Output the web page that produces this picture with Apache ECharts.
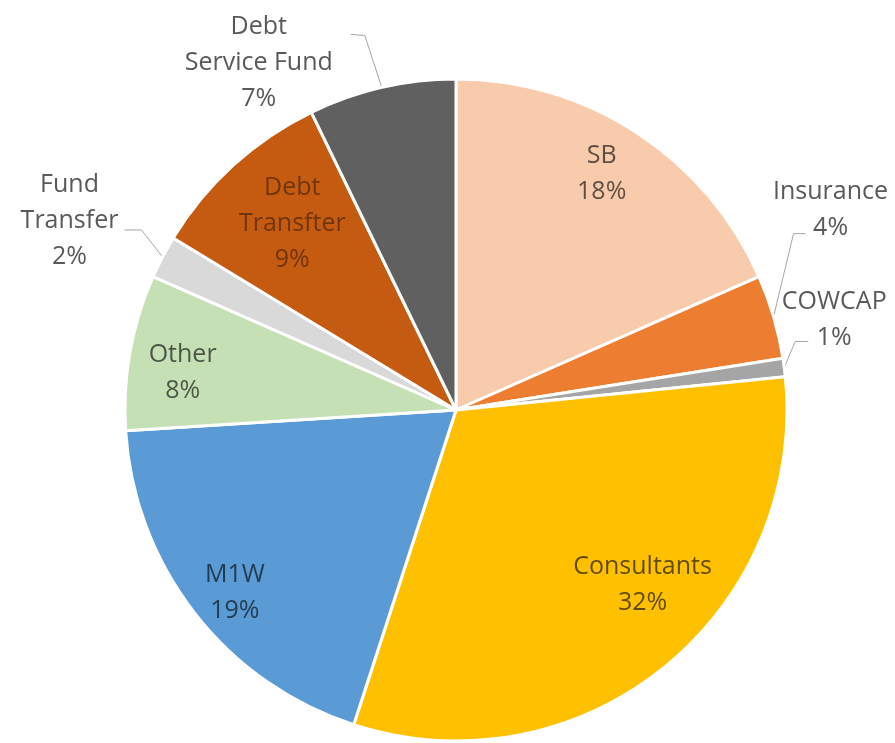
<!DOCTYPE html>
<html>
<head>
<meta charset="utf-8">
<title>Budget pie</title>
<script src="https://cdn.jsdelivr.net/npm/echarts@6/dist/echarts.min.js"></script>
<style>
  html, body { margin: 0; padding: 0; background: #fff; }
  #chart { width: 895px; height: 743px; }
</style>
</head>
<body>
<div id="chart"></div>
<script>
// slices, clockwise from 12 o'clock
const categories = ['SB', 'Insurance', 'COWCAP', 'Consultants', 'M1W', 'Other', 'Fund\nTransfer', 'Debt\nTransfter', 'Debt\nService Fund']
const values = [18.4, 4.1, 0.9, 31.6, 19.0, 7.6, 2.1, 9.1, 7.2]
const colors = ['#F8CBAD', '#ED7D31', '#A5A5A5', '#FFC000', '#5B9BD5', '#C5E0B4', '#D9D9D9', '#C55A11', '#606060']
const outsideLabels = ['Insurance', 'COWCAP', 'Fund\nTransfer', 'Debt\nService Fund']

// nudges for the labels drawn inside the slices
const insideNudge = {
  'SB': [-1, -11],
  'Consultants': [18, -34],
  'M1W': [-9, 18],
  'Other': [-9, 10],
  'Debt\nTransfter': [17, 12]
}
// leader line elbow, line end and label centre, relative to the slice edge
const leader = {
  'Insurance': [[20, -83], [32, -83], [57, -107]],
  'COWCAP': [[11, -26], [24, -26], [50, -48]],
  'Fund\nTransfer': [[-21, -27], [-38, -27], [-93, -36]],
  'Debt\nService Fund': [[-17, -52], [-31, -53], [-123, -25]]
}

const font = '"Open Sans", "Noto Sans", sans-serif'
const center = [456, 410]

const mainData = categories.map((name, i) => {
  const outside = outsideLabels.indexOf(name) >= 0
  return {
    name: name,
    value: values[i],
    itemStyle: { color: colors[i] },
    label: { show: outside },
    labelLine: { show: outside }
  }
})

const innerData = categories.map((name, i) => {
  const inside = outsideLabels.indexOf(name) < 0
  return {
    name: name,
    value: values[i],
    label: {
      show: inside,
      color: name === 'Debt\nTransfter' ? 'rgba(0,0,0,0.42)' : 'rgba(0,0,0,0.62)'
    }
  }
})

const chart = echarts.init(document.getElementById('chart'))
const option = {
  animation: false,
  backgroundColor: '#fff',
  series: [
    {
      type: 'pie',
      center: center,
      radius: 331,
      startAngle: 90,
      clockwise: true,
      percentPrecision: 0,
      avoidLabelOverlap: false,
      itemStyle: { borderColor: '#fff', borderWidth: 3 },
      label: {
        position: 'outside',
        formatter: '{b}\n{d}%',
        fontFamily: font,
        fontSize: 25,
        lineHeight: 36,
        color: '#595959'
      },
      labelLine: {
        length: 10,
        length2: 10,
        lineStyle: { color: '#A6A6A6', width: 1 }
      },
      labelLayout: function (params) {
        const name = categories[params.dataIndex]
        const l = leader[name]
        if (!l || !params.labelLinePoints) return {}
        const a = params.labelLinePoints[0]
        return {
          x: a[0] + l[2][0],
          y: a[1] + l[2][1],
          align: 'center',
          verticalAlign: 'middle',
          labelLinePoints: [
            [a[0], a[1]],
            [a[0] + l[0][0], a[1] + l[0][1]],
            [a[0] + l[1][0], a[1] + l[1][1]]
          ]
        }
      },
      data: mainData
    },
    {
      // transparent ring, only used to place the inside labels
      type: 'pie',
      silent: true,
      center: center,
      radius: [200, 331],
      startAngle: 90,
      clockwise: true,
      percentPrecision: 0,
      itemStyle: { color: 'rgba(0,0,0,0)', borderWidth: 0 },
      label: {
        position: 'inside',
        formatter: '{b}\n{d}%',
        fontFamily: font,
        fontSize: 25,
        lineHeight: 36,
        align: 'center'
      },
      labelLine: { show: false },
      labelLayout: function (params) {
        const n = insideNudge[categories[params.dataIndex]]
        if (!n) return {}
        return { dx: n[0], dy: n[1] }
      },
      data: innerData
    }
  ]
}
chart.setOption(option)
</script>
</body>
</html>
